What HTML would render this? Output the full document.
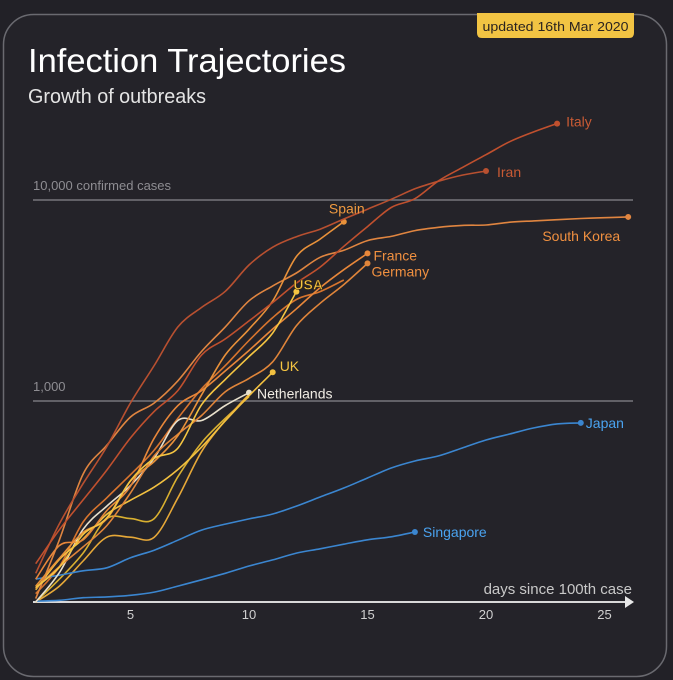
<!DOCTYPE html>
<html><head><meta charset="utf-8"><style>
html,body{margin:0;padding:0;background:#222127;}
svg{display:block;font-family:"Liberation Sans",sans-serif;}
</style></head><body>
<svg id="chart" width="673" height="680" viewBox="0 0 673 680" xmlns="http://www.w3.org/2000/svg">
<rect x="0" y="0" width="673" height="680" fill="#222127"/>
<rect x="3.5" y="14.5" width="663" height="662" rx="30" fill="#242329" stroke="#6a6a70" stroke-width="1.5"/>
<path d="M477,13 H634 V33 Q634,38 629,38 H482 Q477,38 477,33 Z" fill="#f2c443"/>
<text x="555.5" y="31" text-anchor="middle" font-size="13" fill="#2a2320" textLength="146" lengthAdjust="spacingAndGlyphs">updated 16th Mar 2020</text>
<text x="28" y="72" font-size="33" fill="#ffffff" textLength="318" lengthAdjust="spacingAndGlyphs">Infection Trajectories</text>
<text x="28" y="103" font-size="20" fill="#e4e4e4" textLength="178" lengthAdjust="spacingAndGlyphs">Growth of outbreaks</text>
<g id="grid"></g>
<g id="axis"></g>
<g id="series"></g>
<g id="labels"></g>
</svg>
<script>
const NS='http://www.w3.org/2000/svg';
const xTicks=[5,10,15,20,25];
const gridValues=[1000,10000];
const gridLabels=['1,000','10,000 confirmed cases'];
const italy=[155,229,322,453,655,888,1128,1694,2036,2502,3089,3858,4636,5883,7375,9172,10149,12462,14500,16800,19500,21800,24000];
const iran=[139,245,388,593,978,1501,2336,2922,3513,4747,5823,6566,7161,8042,9000,10075,11364,12400,13300,13938];
const southKorea=[104,204,433,602,833,977,1261,1766,2337,3150,3736,4335,5186,5621,6284,6593,7041,7314,7478,7513,7755,7869,7979,8086,8162,8236];
const spain=[120,165,222,259,400,500,673,1073,1695,2277,3146,5232,6391,7798];
const france=[130,191,204,285,377,653,949,1126,1412,1784,2281,2876,3661,4499,5423];
const germany=[117,150,188,240,349,534,684,847,1112,1296,1567,2369,3062,3795,4838];
const usa=[118,149,217,262,402,518,583,959,1281,1663,2179,3500];
const uk=[115,163,206,273,321,373,456,590,797,1061,1391];
const netherlands=[100,140,230,300,380,520,800,800,950,1100];
const other1=[100,130,175,260,260,260,420,620,820,1050];
const other2=[100,120,160,210,210,210,330,560,800,1080];
const other3=[110,150,250,330,430,570,820,1150,1500,2000,2600,3200,3500,4000];
const japan=[130,136,143,148,166,181,203,228,244,259,274,300,333,369,414,464,503,533,584,640,685,734,769,778];
const singapore=[101,102,105,106,108,112,120,129,139,151,162,175,184,194,204,211,223];

const X=d=>12+23.7*d;
const Y=v=>602-201*Math.log10(v/100);
function mk(tag,attrs,parent){const e=document.createElementNS(NS,tag);for(const k in attrs)e.setAttribute(k,attrs[k]);parent.appendChild(e);return e;}
const grid=document.getElementById('grid'),axis=document.getElementById('axis'),series=document.getElementById('series'),labels=document.getElementById('labels');

gridValues.forEach((v,i)=>{
  const l=mk('line',{x1:33,x2:633,y1:Y(v),y2:Y(v),stroke:'#77767c','stroke-width':1.5},grid);
  
  
  const t=mk('text',{x:33,y:Y(v)-10,'font-size':13,fill:'#8e8d92'},grid);
  t.textContent=gridLabels[i];
  
  
});
const ax=mk('line',{x1:33,x2:628,y1:602,y2:602,stroke:'#d8d8d8','stroke-width':2},axis);


const ar=mk('path',{d:'M625,596 L634,602 L625,608 Z',fill:'#e8e8e8'},axis);


const at=mk('text',{x:632,y:594,'text-anchor':'end','font-size':15,fill:'#c8c8c8'},axis);
at.textContent='days since 100th case';


xTicks.forEach(d=>{
  const t=mk('text',{x:X(d),y:619,'text-anchor':'middle','font-size':13,fill:'#d0d0d0'},axis);
  t.textContent=d;
  
  
});

function pathFor(vals){
  const p=vals.map((v,i)=>[X(i+1),Y(v)]);
  let d='M'+p[0][0].toFixed(1)+','+p[0][1].toFixed(1);
  for(let i=0;i<p.length-1;i++){
    const p0=p[i-1]||p[i],p1=p[i],p2=p[i+1],p3=p[i+2]||p2;
    const c1x=p1[0]+(p2[0]-p0[0])/6,c1y=p1[1]+(p2[1]-p0[1])/6;
    const c2x=p2[0]-(p3[0]-p1[0])/6,c2y=p2[1]-(p3[1]-p1[1])/6;
    d+=' C'+c1x.toFixed(1)+','+c1y.toFixed(1)+' '+c2x.toFixed(1)+','+c2y.toFixed(1)+' '+p2[0].toFixed(1)+','+p2[1].toFixed(1);
  }
  return d;
}
const defs=[
 {n:'other-1',v:other1,c:'#d9b030'},
 {n:'other-2',v:other2,c:'#e6a838'},
 {n:'other-3',v:other3,c:'#d8752e'},
 {n:'singapore',v:singapore,c:'#3b86d0',lab:'Singapore',lc:'#4aa3f0',dx:8,dy:5},
 {n:'japan',v:japan,c:'#3b86d0',lab:'Japan',lc:'#4aa3f0',dx:5,dy:5},
 {n:'netherlands',v:netherlands,c:'#e8e0cc',lab:'Netherlands',lc:'#f0ece4',dx:8,dy:6},
 {n:'uk',v:uk,c:'#f2c040',lab:'UK',lc:'#f5c542',dx:7,dy:-1},
 {n:'germany',v:germany,c:'#e0853a',lab:'Germany',lc:'#f09040',dx:4,dy:13},
 {n:'france',v:france,c:'#e8873a',lab:'France',lc:'#f09040',dx:6,dy:7},
 {n:'south-korea',v:southKorea,c:'#e08540',lab:'South Korea',lc:'#f09040',dx:-8,dy:24,anchor:'end'},
 {n:'spain',v:spain,c:'#e8913a',lab:'Spain',lc:'#f09a40',dx:3,dy:-8,anchor:'middle'},
 {n:'iran',v:iran,c:'#b85030',lab:'Iran',lc:'#c85a34',dx:11,dy:6},
 {n:'italy',v:italy,c:'#c0502e',lab:'Italy',lc:'#c85a34',dx:9,dy:3},
 {n:'usa',v:usa,c:'#f5c542',lab:'USA',lc:'#f5c542',dx:-3,dy:-2}
];
defs.forEach(s=>{
  const p=mk('path',{d:pathFor(s.v),fill:'none',stroke:s.c,'stroke-width':1.6,'stroke-linejoin':'round'},series);
  
  
  if(s.lab){
    const n=s.v.length,cx=X(n),cy=Y(s.v[n-1]);
    const c=mk('circle',{cx:cx,cy:cy,r:3,fill:s.c},series);
    
    
    const t=mk('text',{x:cx+s.dx,y:cy+s.dy,'font-size':14,fill:s.lc,'text-anchor':s.anchor||'start'},labels);
    if(s.n==='usa'){t.setAttribute('stroke','#3a2a10');t.setAttribute('stroke-width','0.6');t.setAttribute('font-weight','bold');}
    t.textContent=s.lab;
    
    
  }
});
</script>
</body></html>
